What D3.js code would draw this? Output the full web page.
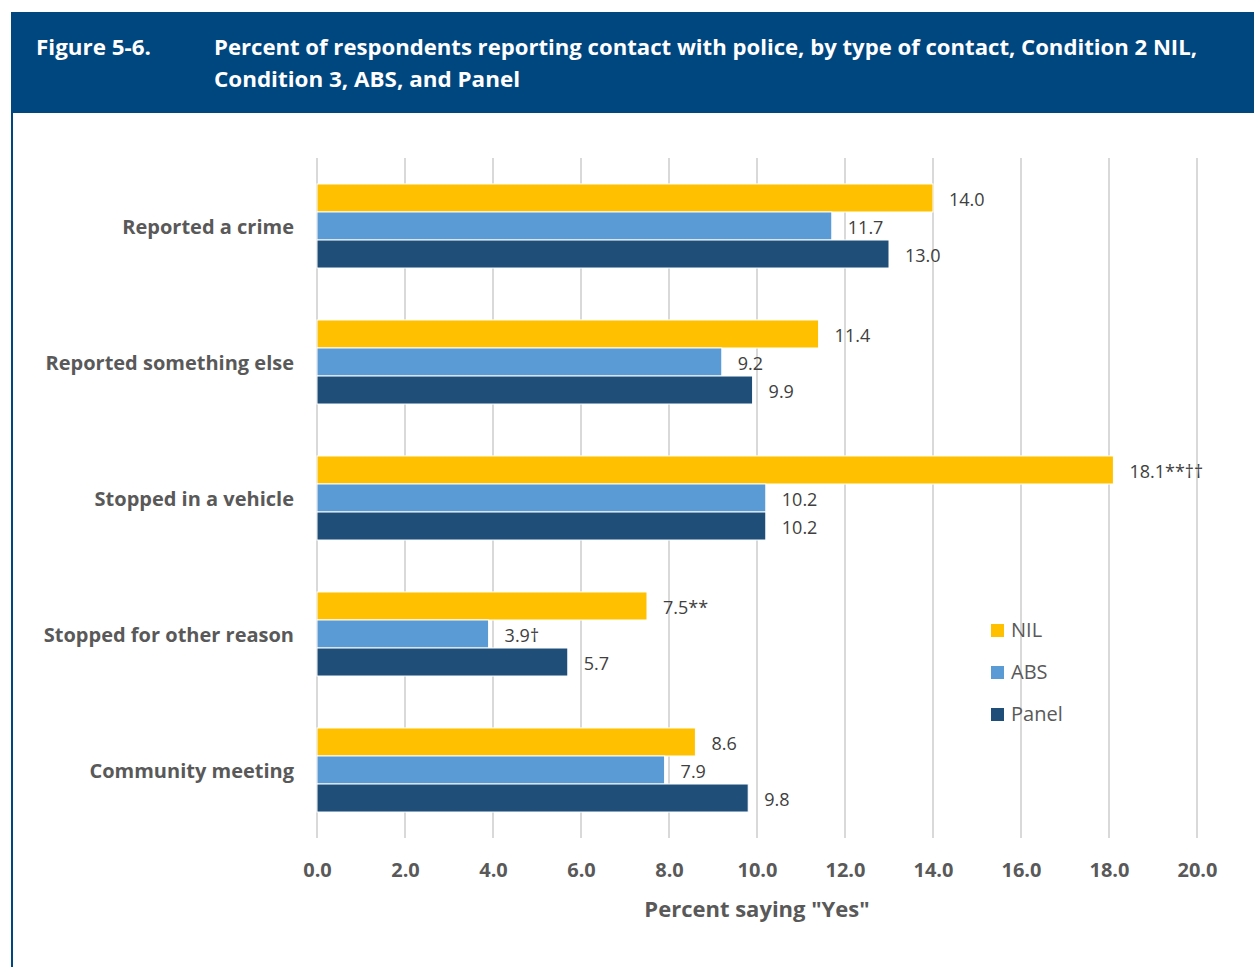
<!DOCTYPE html>
<html>
<head>
<meta charset="utf-8">
<script src="https://cdn.jsdelivr.net/npm/d3@7"></script>
<style>
  html, body { margin: 0; padding: 0; background: #fff; }
  svg { display: block; }
</style>
</head>
<body>
<svg id="chart" width="1254" height="967"></svg>
<script>
// Categories of police contact, top to bottom
const categories = [
  "Reported a crime",
  "Reported something else",
  "Stopped in a vehicle",
  "Stopped for other reason",
  "Community meeting"
];
const seriesNames = ["NIL", "ABS", "Panel"];
const nilValues   = [14.0, 11.4, 18.1, 7.5, 8.6];
const absValues   = [11.7, 9.2, 10.2, 3.9, 7.9];
const panelValues = [13.0, 9.9, 10.2, 5.7, 9.8];
// Significance markers appended to the value labels
const nilMarks   = ["", "", "**\u2020\u2020", "**", ""];
const absMarks   = ["", "", "", "\u2020", ""];
const panelMarks = ["", "", "", "", ""];
const xTicks = [0, 2, 4, 6, 8, 10, 12, 14, 16, 18, 20];

const colors = { NIL: "#FFC000", ABS: "#5B9BD5", Panel: "#1F4E79" };
const FONT = "'Open Sans', 'Liberation Sans', sans-serif";

const svg = d3.select("#chart").style("font-family", FONT);

// Header band and left rule
svg.append("rect").attr("x", 11).attr("y", 12).attr("width", 1243).attr("height", 101).attr("fill", "#00467F");
svg.append("rect").attr("x", 11).attr("y", 113).attr("width", 2).attr("height", 854).attr("fill", "#00467F");

const head = svg.append("g").attr("fill", "#fff").attr("font-weight", 700).attr("font-size", 22);
head.append("text").attr("x", 36).attr("y", 55).attr("textLength", 115).attr("lengthAdjust", "spacingAndGlyphs")
  .text("Figure 5-6.");
head.append("text").attr("x", 214).attr("y", 55).attr("textLength", 983).attr("lengthAdjust", "spacingAndGlyphs")
  .text("Percent of respondents reporting contact with police, by type of contact, Condition 2 NIL,");
head.append("text").attr("x", 214).attr("y", 87).attr("textLength", 306).attr("lengthAdjust", "spacingAndGlyphs")
  .text("Condition 3, ABS, and Panel");

// Scales
const plotTop = 158, plotBottom = 838;
const x = d3.scaleLinear().domain([0, 20]).range([317, 1197]);
const y = d3.scaleBand().domain(categories).range([plotTop, plotBottom])
  .paddingInner(0.382).paddingOuter(0.191);
const ySub = d3.scaleBand().domain(seriesNames).range([0, y.bandwidth()]);

// Vertical gridlines
svg.append("g").selectAll("line").data(xTicks).join("line")
  .attr("x1", d => x(d)).attr("x2", d => x(d))
  .attr("y1", plotTop).attr("y2", plotBottom)
  .attr("stroke", "#D9D9D9").attr("stroke-width", 2);

// X axis tick labels
const xAxis = d3.axisBottom(x).tickValues(xTicks).tickFormat(d3.format(".1f")).tickSize(0).tickPadding(0);
const gx = svg.append("g").attr("transform", `translate(0, 877)`).call(xAxis);
gx.select(".domain").remove();
gx.selectAll("text").attr("font-family", FONT).attr("font-size", 20).attr("font-weight", 700)
  .attr("fill", "#595959").attr("dy", 0);

svg.append("text").attr("x", 757).attr("y", 917).attr("text-anchor", "middle")
  .attr("font-size", 22).attr("font-weight", 700).attr("fill", "#595959")
  .text("Percent saying \"Yes\"");

// Category labels
svg.append("g").selectAll("text").data(categories).join("text")
  .attr("x", 294).attr("y", d => y(d) + y.bandwidth() / 2 + 8)
  .attr("text-anchor", "end").attr("font-size", 20).attr("font-weight", 700).attr("fill", "#595959")
  .text(d => d);

// Bars
const series = [
  { name: "NIL", values: nilValues, marks: nilMarks },
  { name: "ABS", values: absValues, marks: absMarks },
  { name: "Panel", values: panelValues, marks: panelMarks }
];
const rows = series.flatMap(s => s.values.map((v, i) => ({ series: s.name, cat: categories[i], value: v, mark: s.marks[i] })));

svg.append("g").selectAll("rect").data(rows).join("rect")
  .attr("x", x(0))
  .attr("y", d => y(d.cat) + ySub(d.series))
  .attr("width", d => x(d.value) - x(0))
  .attr("height", ySub.bandwidth())
  .attr("fill", d => colors[d.series])
  .attr("stroke", "#fff").attr("stroke-width", 1);

// Value labels
svg.append("g").selectAll("text").data(rows).join("text")
  .attr("x", d => x(d.value) + 16)
  .attr("y", d => y(d.cat) + ySub(d.series) + ySub.bandwidth() / 2 + 8)
  .attr("font-size", 18).attr("fill", "#404040")
  .text(d => d.value.toFixed(1) + d.mark);

// Legend
const legend = svg.append("g").selectAll("g").data(seriesNames).join("g")
  .attr("transform", (d, i) => `translate(991, ${624 + i * 42})`);
legend.append("rect").attr("width", 13).attr("height", 13).attr("fill", d => colors[d]);
legend.append("text").attr("x", 20).attr("y", 13).attr("font-size", 20).attr("fill", "#595959").text(d => d);
</script>
</body>
</html>
